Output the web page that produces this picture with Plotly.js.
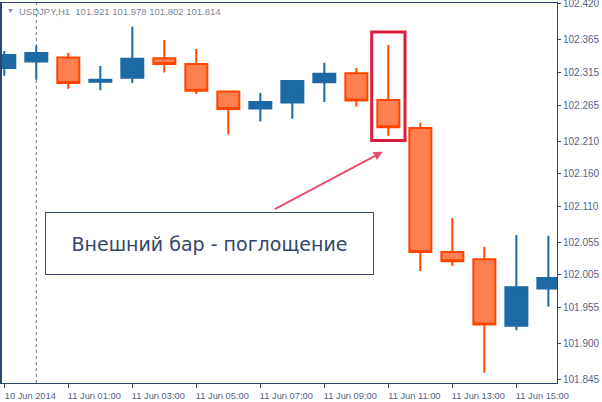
<!DOCTYPE html>
<html><head><meta charset="utf-8">
<script src="https://cdn.plot.ly/plotly-3.0.1.min.js"></script>
<style>html,body{margin:0;padding:0;background:#fff;overflow:hidden}</style>
</head><body><div id="chart" style="width:602px;height:402px"></div>
<script>
// ---- data ----
const times = ['2014-06-10 23:00','2014-06-11 00:00','2014-06-11 01:00','2014-06-11 02:00','2014-06-11 03:00','2014-06-11 04:00','2014-06-11 05:00','2014-06-11 06:00','2014-06-11 07:00','2014-06-11 08:00','2014-06-11 09:00','2014-06-11 10:00','2014-06-11 11:00','2014-06-11 12:00','2014-06-11 13:00','2014-06-11 14:00','2014-06-11 15:00','2014-06-11 16:00'];
const opens  = [102.322,102.332,102.338,102.301,102.307,102.337,102.328,102.286,102.260,102.269,102.300,102.314,102.273,102.230,102.040,102.029,101.927,101.984];
const highs  = [102.348,102.356,102.345,102.325,102.385,102.365,102.351,102.287,102.284,102.303,102.330,102.322,102.357,102.238,102.092,102.048,102.066,102.065];
const lows   = [102.310,102.304,102.290,102.288,102.299,102.315,102.282,102.220,102.240,102.244,102.270,102.263,102.218,102.011,102.019,101.855,101.920,101.956];
const closes = [102.342,102.345,102.299,102.304,102.336,102.328,102.287,102.259,102.270,102.302,102.313,102.272,102.231,102.040,102.026,101.929,101.986,102.000];
const priceTicks = [102.420,102.365,102.315,102.265,102.210,102.160,102.110,102.055,102.005,101.955,101.900,101.845];
const priceTickLabels = ['102.420','102.365','102.315','102.265','102.210','102.160','102.110','102.055','102.005','101.955','101.900','101.845'];
const timeTicks = ['2014-06-10 23:00','2014-06-11 01:00','2014-06-11 03:00','2014-06-11 05:00','2014-06-11 07:00','2014-06-11 09:00','2014-06-11 11:00','2014-06-11 13:00','2014-06-11 15:00'];
const timeTickLabels = ['10 Jun 2014','11 Jun 01:00','11 Jun 03:00','11 Jun 05:00','11 Jun 07:00','11 Jun 09:00','11 Jun 11:00','11 Jun 13:00','11 Jun 15:00'];
const titleText = 'USDJPY,H1\u00a0\u00a0101.921 101.978 101.802 101.814';
const noteText = 'Внешний бар - поглощение';
const daySeparator = '2014-06-11 00:00';
const highlightIndex = 12;

// ---- helpers ----
const H = 3600000;
function ms(s){ return Date.parse(s.replace(' ','T') + ':00Z'); }
function fmt(t){ return new Date(t).toISOString().replace('T',' ').replace('Z',''); }

const t0 = ms(times[0]);
const xRange = [fmt(t0 - 0.103*H), fmt(t0 + 17.27*H)];
const hi = ms(times[highlightIndex]);

const trace = {
  type: 'candlestick',
  x: times, open: opens, high: highs, low: lows, close: closes,
  increasing: {line: {color: '#1B6AA5', width: 2}, fillcolor: '#1B6AA5'},
  decreasing: {line: {color: '#FF4500', width: 2}, fillcolor: '#FF7F50'},
  whiskerwidth: 0,
  hoverinfo: 'skip'
};

const axisColor = '#2B4770';
const labelColor = '#52658a';
const layout = {
  width: 602, height: 402,
  margin: {l: 1, r: 45, t: 3, b: 19, pad: 0},
  paper_bgcolor: '#ffffff', plot_bgcolor: '#ffffff',
  showlegend: false,
  boxgap: 0.3125, boxgroupgap: 0,
  title: {text: titleText, x: 19/602, xanchor: 'left', y: 1 - 11.5/402, yanchor: 'middle',
          font: {family: 'Liberation Sans, Arial, sans-serif', size: 9.5, color: '#7b8796'}},
  xaxis: {
    type: 'date', range: xRange, rangeslider: {visible: false},
    showgrid: false, zeroline: false,
    showline: true, mirror: true, linecolor: axisColor, linewidth: 1,
    ticks: 'outside', ticklen: 4, tickcolor: axisColor,
    tickmode: 'array', tickvals: timeTicks, ticktext: timeTickLabels,
    ticklabelshift: 26, ticklabelstandoff: 0, ticklabeloverflow: 'allow',
    tickfont: {family: 'Liberation Sans, Arial, sans-serif', size: 9.3, color: labelColor}
  },
  yaxis: {
    side: 'right', range: [101.8393, 102.4215],
    showgrid: false, zeroline: false,
    showline: true, mirror: true, linecolor: axisColor, linewidth: 1,
    ticks: 'outside', ticklen: 3, tickcolor: axisColor,
    tickmode: 'array', tickvals: priceTicks, ticktext: priceTickLabels,
    ticklabeloverflow: 'allow',
    tickfont: {family: 'Liberation Sans, Arial, sans-serif', size: 10, color: labelColor}
  },
  shapes: [
    {type: 'line', xref: 'x', yref: 'paper', x0: daySeparator, x1: daySeparator, y0: 0, y1: 1,
     line: {color: '#5b6a80', width: 1, dash: '3px,3px'}, layer: 'below'},
    {type: 'rect', xref: 'x', yref: 'y',
     x0: fmt(hi - 0.52*H), x1: fmt(hi + 0.52*H),
     y0: lows[highlightIndex] - 0.007, y1: highs[highlightIndex] + 0.020,
     line: {color: '#DC1C3C', width: 3}, fillcolor: 'rgba(0,0,0,0)'},
    {type: 'line', xref: 'paper', yref: 'paper', x0: 0, x1: 0, y0: 0, y1: 1,
     line: {color: axisColor, width: 2}}
  ],
  annotations: [
    {xref: 'paper', yref: 'paper', x: 10/602, y: 1 - 8/380, xanchor: 'center', yanchor: 'middle',
     text: '▼', showarrow: false, font: {size: 7, color: '#7b8796'}},
    {xref: 'x', yref: 'y', axref: 'x', ayref: 'y',
     x: fmt(hi - 0.175*H), y: 102.1937, ax: fmt(hi - 3.593*H), ay: 102.1044,
     text: '', showarrow: true, arrowhead: 2, arrowsize: 0.9, arrowwidth: 2, arrowcolor: '#E8506A'},
    {xref: 'paper', yref: 'paper', x: (209.8-1)/556, y: (383-243.8)/380, xanchor: 'center', yanchor: 'middle',
     text: noteText, showarrow: false, width: 327, height: 61, borderpad: 0,
     bordercolor: '#3B4D6E', borderwidth: 1, bgcolor: '#ffffff',
     font: {family: 'DejaVu Sans, Verdana, sans-serif', size: 19, color: '#34466b'}}
  ]
};

Plotly.newPlot('chart', [trace], layout, {staticPlot: true, displayModeBar: false});
</script>
</body></html>
